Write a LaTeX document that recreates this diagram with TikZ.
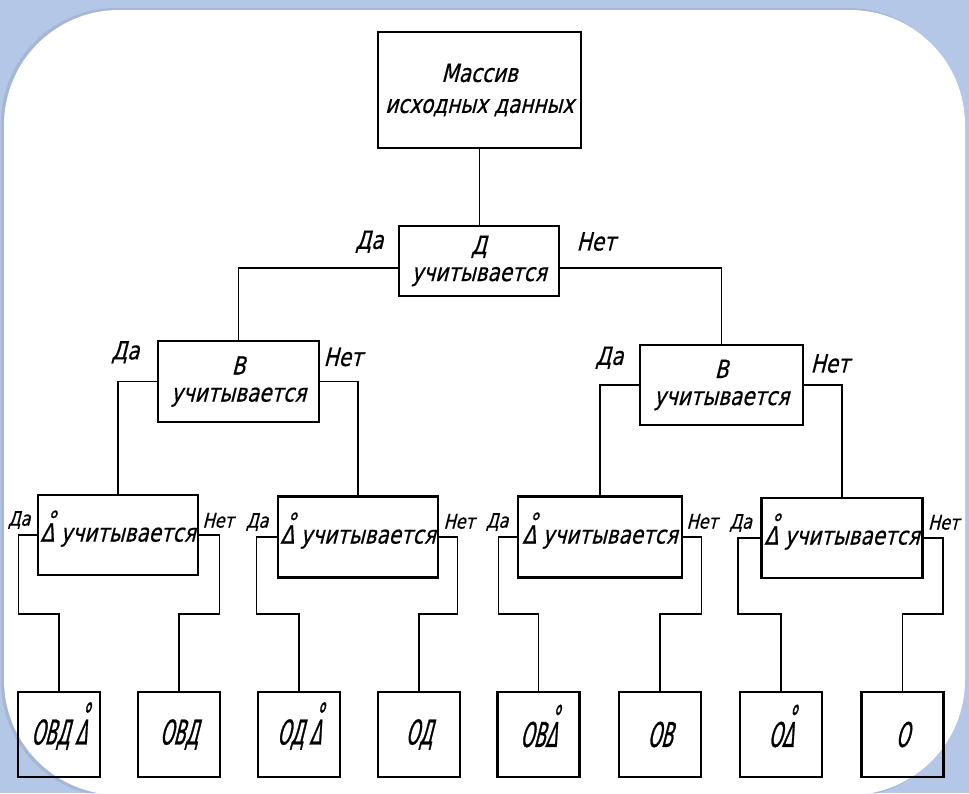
\documentclass[tikz,border=0pt]{standalone}
\usepackage{fontspec}
\usepackage{tikz}
\usetikzlibrary{positioning}
\newfontfamily\gost{DejaVu Sans}[FakeStretch=0.8,FakeSlant=0.25,FakeBold=0.6]
\newfontfamily\gostnarrow{DejaVu Sans}[FakeStretch=0.5,FakeSlant=0.25,FakeBold=0.8]
\definecolor{frame}{HTML}{B4C7E7}
\newcommand\ringD[1][0.28em]{\leavevmode\ooalign{Δ\cr\hidewidth\raisebox{0.5em}{\kern#1 °}\hidewidth\cr}}
\tikzset{box/.style={draw,line width=2.8pt,align=center,inner sep=0pt,font=\gost\fontsize{25}{27}\selectfont},leaf/.style={draw,line width=2.8pt,minimum width=82pt,minimum height=85pt,inner sep=0pt,font=\gostnarrow\fontsize{34}{34}\selectfont},lab/.style={inner sep=0pt,font=\gost\fontsize{25}{27}\selectfont},sublab/.style={lab,font=\gost\fontsize{20}{22}\selectfont},wire/.style={line width=1.5pt}}

\begin{document}
\begin{tikzpicture}[x=1pt,y=-1pt]
\useasboundingbox (0,0) rectangle (969,793);
\fill[frame] (0,0) rectangle (969,793);
\begin{scope}
\clip (0,0) rectangle (969,793);
\fill[black,opacity=.08,rounded corners=115pt] (1,8) rectangle (963,797);
\fill[white,rounded corners=115pt] (4,10) rectangle (965,795);
\end{scope}
% decision boxes
\node[box,minimum width=203pt,minimum height=116pt] (src) at (479.5,90) {Массив\\[4pt]исходных данных};
\node[box,minimum width=160pt,minimum height=70pt] (d) at (479,261) {Д\\учитывается};
\node[box,minimum width=161pt,minimum height=81pt] (bl) at (238.5,381.5) {В\\учитывается};
\node[box,minimum width=163pt,minimum height=80pt] (br) at (721.5,385) {В\\учитывается};
\node[box,minimum width=160pt,minimum height=80pt] (c1) at (118,535) {\ringD\ учитывается};
\node[box,minimum width=160pt,minimum height=81pt] (c2) at (358,537) {\ringD\ учитывается};
\node[box,minimum width=164pt,minimum height=81pt] (c3) at (600,537) {\ringD\ учитывается};
\node[box,minimum width=161pt,minimum height=80pt] (c4) at (842,538) {\ringD\ учитывается};
% results
\node[leaf] (l1) at (59,734.5) {ОВД\,\ringD[0.18em]};
\node[leaf] (l2) at (179,734.5) {ОВД};
\node[leaf] (l3) at (299,734.5) {ОД\,\ringD[0.18em]};
\node[leaf] (l4) at (419,734.5) {ОД};
\node[leaf] (l5) at (538.5,734.5) {ОВ\ringD[0.18em]};
\node[leaf] (l6) at (660,734.5) {ОВ};
\node[leaf] (l7) at (781,734.5) {О\ringD[0.18em]};
\node[leaf] (l8) at (902.5,734.5) {О};
% yes / no
\node[lab,above left=8pt and 14pt of d.west] (dy) {Да};\node[lab,above right=10pt and 16pt of d.east] (dn) {Нет};
\node[lab,above left=18pt and 17pt of bl.west] (bly) {Да};\node[lab,above right=15pt and 3pt of bl.east] (bln) {Нет};
\node[lab,above left=16pt and 15pt of br.west] (bry) {Да};\node[lab,above right=12pt and 6pt of br.east] (brn) {Нет};
\node[sublab,above left=6pt and 6pt of c1.west] (c1y) {Да};\node[sublab,above right=7pt and 3pt of c1.east] (c1n) {Нет};
\node[sublab,above left=6pt and 8pt of c2.west] (c2y) {Да};\node[sublab,above right=8pt and 4pt of c2.east] (c2n) {Нет};
\node[sublab,above left=6pt and 8pt of c3.west] (c3y) {Да};\node[sublab,above right=8pt and 3pt of c3.east] (c3n) {Нет};
\node[sublab,above left=6pt and 8pt of c4.west] (c4y) {Да};\node[sublab,above right=8pt and 4pt of c4.east] (c4n) {Нет};
\draw[wire](src.south)--(src.south|-d.north);
\draw[wire]([yshift=-7pt]d.west)-|(bl.north);\draw[wire]([yshift=-7pt]d.east)-|(br.north);
\draw[wire](bl.west)-|(c1.north);\draw[wire](bl.east)-|(c2.north);\draw[wire](br.west)-|(c3.north);\draw[wire](br.east)-|(c4.north);
\draw[wire](c1.west)-|++(-18,79)-|(l1.north);\draw[wire](c1.east)-|++(20,79)-|(l2.north);
\draw[wire](c2.west)-|++(-20,77)-|(l3.north);\draw[wire](c2.east)-|++(18,77)-|(l4.north);
\draw[wire](c3.west)-|++(-18,77)-|(l5.north);\draw[wire](c3.east)-|++(18,77)-|(l6.north);
\draw[wire](c4.west)-|++(-22,76)-|(l7.north);\draw[wire](c4.east)-|++(19,76)-|(l8.north);
\end{tikzpicture}
\end{document}
